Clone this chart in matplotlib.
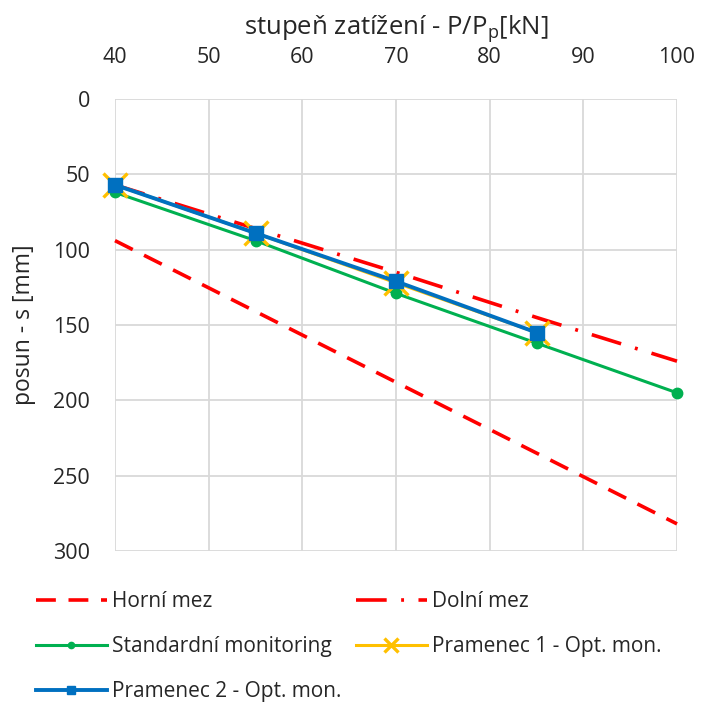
import matplotlib.pyplot as plt

plt.rcParams['font.family'] = ['Open Sans', 'DejaVu Sans']

zatizeni = [40, 55, 70, 85, 100]
horni_mez = [94, 141, 188, 235, 282]
dolni_mez = [57, 86, 115, 145, 174]
standardni = [62, 94, 129, 162, 195]
zatizeni_opt = [40, 55, 70, 85]
pramenec1 = [57, 89, 122, 155]
pramenec2 = [57, 89, 121, 155]

fig = plt.figure(figsize=(7.02, 7.06), dpi=100)
ax = fig.add_axes([115 / 702, 1 - 551 / 706, 562 / 702, 452 / 706])

h1, = ax.plot(zatizeni, horni_mez, color='#ff0000', lw=2.6, ls=(0, (5.5, 3.5)), label='Horní mez')
h2, = ax.plot(zatizeni, dolni_mez, color='#ff0000', lw=2.6, ls=(0, (8.5, 4, 0.8, 4)), label='Dolní mez')
h3, = ax.plot(zatizeni, standardni, color='#00b050', lw=2.2, marker='o', ms=7.5,
              label='Standardní monitoring')
h4, = ax.plot(zatizeni_opt, pramenec1, color='#ffc000', lw=2.2, marker='x', ms=17, mew=2.4,
              label='Pramenec 1 - Opt. mon.')
h5, = ax.plot(zatizeni_opt, pramenec2, color='#0070c0', lw=2.8, marker='s', ms=9.5,
              label='Pramenec 2 - Opt. mon.')
for h in (h1, h2, h3, h4, h5):
    h.set_clip_on(False)

ax.set_xlim(40, 100)
ax.set_ylim(300, 0)
ax.set_xticks(range(40, 101, 10))
ax.set_yticks(range(0, 301, 50))
ax.xaxis.tick_top()
ax.xaxis.set_label_position('top')
ax.grid(True, color='#d9d9d9', lw=1.3)
ax.set_axisbelow(True)
for s in ax.spines.values():
    s.set_visible(False)
ax.tick_params(length=0, labelsize=15.5, colors='#262626')
ax.tick_params(axis='x', pad=22)
ax.tick_params(axis='y', pad=18)
ax.set_xlabel('stupeň zatížení - P/P$_\\mathregular{p}$[kN]', fontsize=18.5, labelpad=9, color='#262626')
ax.set_ylabel('posun - s [mm]', fontsize=16.5, labelpad=12, color='#262626')

leg_handles = [h1, h3, h5, h2, h4]
leg = fig.legend(handles=leg_handles, labels=[h.get_label() for h in leg_handles],
                 loc='upper left', bbox_to_anchor=(36 / 702, 1 - 591 / 706), ncol=2, frameon=False,
                 fontsize=15, handlelength=3.4, handletextpad=0.25, columnspacing=0.7,
                 labelspacing=1.15, borderaxespad=0, borderpad=0, markerscale=0.6)
for t in leg.get_texts():
    t.set_color('#262626')

fig.savefig('out.png', dpi=100)
